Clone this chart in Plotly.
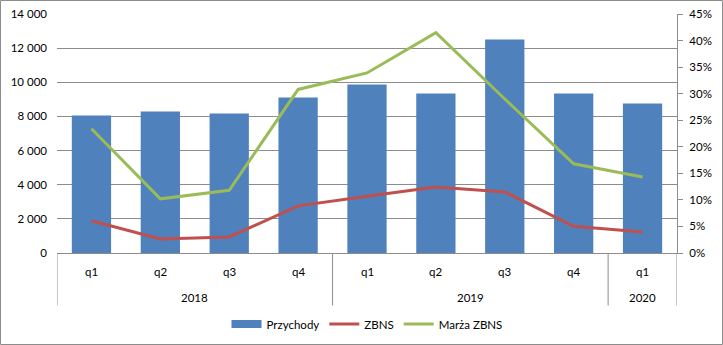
import plotly.graph_objects as go

years = ["2018", "2018", "2018", "2018", "2019", "2019", "2019", "2019", "2020"]
quarters = ["q1", "q2", "q3", "q4", "q1", "q2", "q3", "q4", "q1"]
przychody = [8050, 8290, 8170, 9110, 9870, 9340, 12510, 9340, 8760]
zbns = [1890, 820, 940, 2760, 3330, 3870, 3580, 1560, 1230]
marza = [0.234, 0.102, 0.118, 0.308, 0.339, 0.415, 0.290, 0.168, 0.143]

W, H = 723, 345
ml, mr, mt, mb = 57, 46, 14, 92
FONT = "Lato"
FS = 11.5
GRID = "#8c8c8c"
BLUE, RED, GREEN = "#4F81BD", "#C0504D", "#9BBB59"

n = len(quarters)
xs = list(range(n))
pw = W - ml - mr
ph = H - mt - mb

fig = go.Figure()
fig.add_trace(go.Bar(x=xs, y=przychody, name="Przychody", legendgroup="p", showlegend=False,
                     marker=dict(color=BLUE, line=dict(width=0))))
# legend entry drawn as a wide block, like the original
fig.add_trace(go.Scatter(x=[None], y=[None], name="Przychody", legendgroup="p", mode="lines",
                         line=dict(color=BLUE, width=8), hoverinfo="skip"))
fig.add_trace(go.Scatter(x=xs, y=zbns, name="ZBNS", mode="lines",
                         line=dict(color=RED, width=3)))
fig.add_trace(go.Scatter(x=xs, y=marza, name="Marża ZBNS", mode="lines",
                         line=dict(color=GREEN, width=3), yaxis="y2"))

# category labels (two levels)
q_y = -(271.5 - (H - mb)) / ph
y_y = -(297.5 - (H - mb)) / ph
div_y = -(305.5 - (H - mb)) / ph
for i, q in enumerate(quarters):
    fig.add_annotation(x=i, y=q_y, xref="x", yref="paper", text=q, showarrow=False,
                       xanchor="center", yanchor="middle", font=dict(size=FS))

groups = []
for i, yv in enumerate(years):
    if not groups or groups[-1][0] != yv:
        groups.append([yv, i, i])
    else:
        groups[-1][2] = i
bounds = set()
for yv, a, b in groups:
    fig.add_annotation(x=(a + b) / 2, y=y_y, xref="x", yref="paper", text=yv,
                       showarrow=False, xanchor="center", yanchor="middle",
                       font=dict(size=FS))
    bounds.add(a - 0.5)
    bounds.add(b + 0.5)
for bx in sorted(bounds):
    fig.add_shape(type="line", xref="x", yref="paper", x0=bx, x1=bx, y0=0, y1=div_y,
                  line=dict(color=GRID, width=1))

fig.add_shape(type="rect", xref="paper", yref="paper",
              x0=-(ml - 0.5) / pw, x1=1 + (mr - 0.5) / pw,
              y0=-(mb - 0.5) / ph, y1=1 + (mt - 0.5) / ph,
              line=dict(color=GRID, width=1), layer="below")

fig.update_layout(
    width=W, height=H,
    margin=dict(l=ml, r=mr, t=mt, b=mb, autoexpand=False),
    paper_bgcolor="white", plot_bgcolor="white",
    font=dict(family=FONT, size=FS, color="#000000"),
    separators=", ",
    bargap=0.43,
    showlegend=True,
    legend=dict(orientation="h", x=0.5, xanchor="center", y=-(324 - (H - mb)) / ph,
                yanchor="middle", font=dict(size=FS), itemwidth=30),
    xaxis=dict(range=[-0.5, n - 0.5], showgrid=False, showline=True, linecolor=GRID,
               linewidth=1, ticks="", showticklabels=False, zeroline=False),
    yaxis=dict(range=[0, 14000], dtick=2000, tickformat=",d", showgrid=True,
               gridcolor=GRID, gridwidth=1, zeroline=False, showline=False,
               ticks="", ticklabelstandoff=9, tickfont=dict(size=FS)),
    yaxis2=dict(range=[0, 0.45], dtick=0.05, tickformat=".0%", overlaying="y", side="right",
                showgrid=False, zeroline=False, showline=True, linecolor=GRID,
                ticks="outside", ticklen=5, tickcolor=GRID, ticklabelstandoff=4,
                tickfont=dict(size=FS)),
)

fig.write_html("out.html")
